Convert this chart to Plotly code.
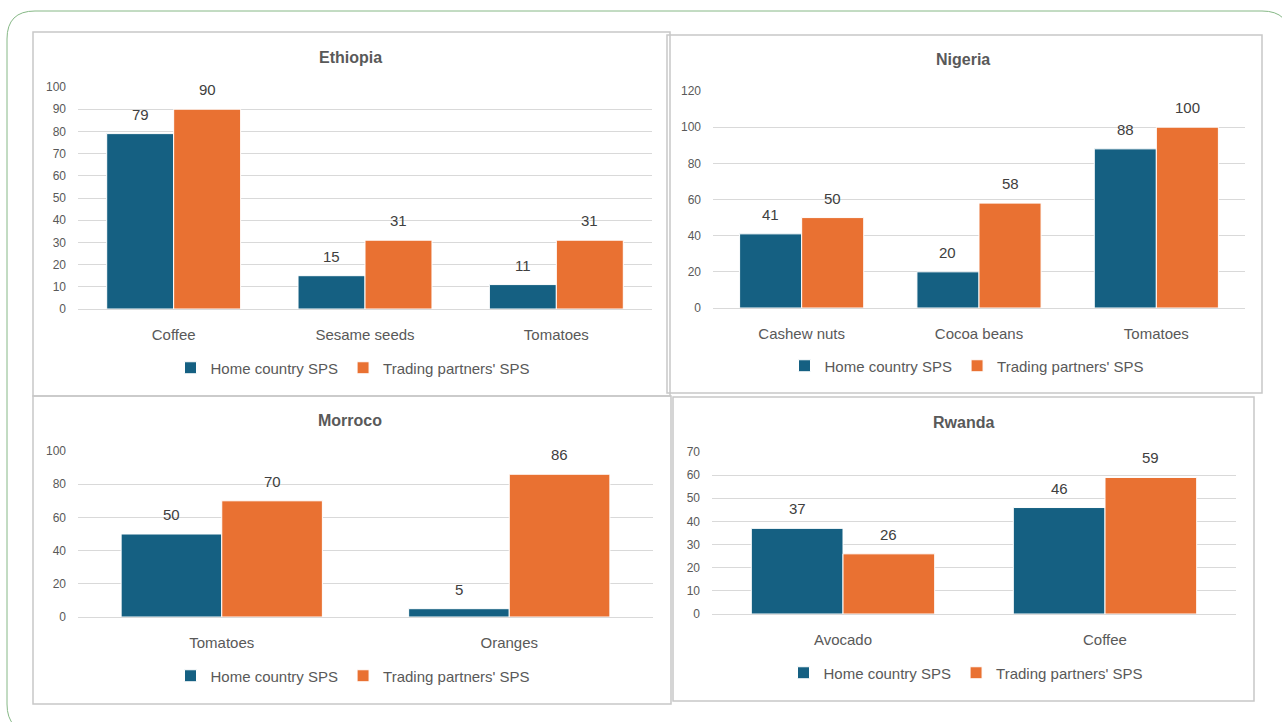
import plotly.graph_objects as go

W, H = 1282, 722

series_names = ["Home country SPS", "Trading partners' SPS"]
colors = ["#156082", "#E97132"]

eth_cats = ["Coffee", "Sesame seeds", "Tomatoes"]
eth_home = [79, 15, 11]
eth_partner = [90, 31, 31]

nga_cats = ["Cashew nuts", "Cocoa beans", "Tomatoes"]
nga_home = [41, 20, 88]
nga_partner = [50, 58, 100]

mar_cats = ["Tomatoes", "Oranges"]
mar_home = [50, 5]
mar_partner = [70, 86]

rwa_cats = ["Avocado", "Coffee"]
rwa_home = [37, 46]
rwa_partner = [26, 59]

titles = ["Ethiopia", "Nigeria", "Morroco", "Rwanda"]
yranges = [(0, 100, 10), (0, 120, 20), (0, 100, 20), (0, 70, 10)]

BARGAP = 0.3


def px(x):
    return x / W


def py(y):
    return 1 - y / H


# panel layout (pixel geometry)
plot_boxes = [(78, 652, 87, 309), (713, 1245, 91, 308), (78, 653, 451, 617), (712, 1236, 452, 614)]
panel_boxes = [(33, 670, 32, 396), (667, 1262, 35, 393), (33, 671, 396, 704), (673, 1254, 397, 701)]
title_pos = [(350, 57), (963, 60), (350, 420), (963, 422)]
legend_pos = [(353, 368), (967, 366), (353, 676), (966, 673)]

data = [
    (eth_cats, eth_home, eth_partner),
    (nga_cats, nga_home, nga_partner),
    (mar_cats, mar_home, mar_partner),
    (rwa_cats, rwa_home, rwa_partner),
]

fig = go.Figure()
FONT = "Liberation Sans, Arial, sans-serif"
GRAY = "#595959"

layout = dict(
    width=W, height=H, margin=dict(l=0, r=0, t=0, b=0, autoexpand=False),
    paper_bgcolor="white", plot_bgcolor="white",
    barmode="group", bargap=BARGAP, bargroupgap=0.0,
    font=dict(family=FONT, color=GRAY),
    showlegend=True,
)

annotations = []
shapes = []

for i, (cats, home, partner) in enumerate(data):
    n = i + 1
    xa = "x" if n == 1 else f"x{n}"
    ya = "y" if n == 1 else f"y{n}"
    lg = "legend" if n == 1 else f"legend{n}"
    x0, x1, y0, y1 = plot_boxes[i]
    bar_px = (x1 - x0) / len(cats) * (1 - BARGAP) / 2
    for k, (vals, name, col) in enumerate([(home, series_names[0], colors[0]),
                                           (partner, series_names[1], colors[1])]):
        fig.add_trace(go.Bar(
            x=cats, y=vals, name=name, xaxis=xa, yaxis=ya, legend=lg,
            marker=dict(color=col, line=dict(color="white", width=1)),
            hoverinfo="x+y+name",
        ))
        shift = (k - 0.5) * bar_px
        for c, v in zip(cats, vals):
            annotations.append(dict(
                x=c, y=v, xref=xa, yref=ya, text=str(v), showarrow=False,
                xanchor="center", yanchor="bottom", xshift=shift, yshift=9,
                font=dict(size=15, color="#404040", family=FONT),
            ))
    lo, hi, dt = yranges[i]
    layout[f"xaxis{'' if n == 1 else n}"] = dict(
        domain=[px(x0), px(x1)], anchor=ya, showgrid=False, automargin=False,
        showline=True, linecolor="#d9d9d9", linewidth=1,
        tickfont=dict(size=15, color=GRAY, family=FONT), ticks="",
        ticklabelstandoff=12, fixedrange=True,
    )
    layout[f"yaxis{'' if n == 1 else n}"] = dict(
        domain=[py(y1), py(y0)], anchor=xa, range=[lo, hi], dtick=dt, automargin=False,
        showgrid=True, gridcolor="#d9d9d9", gridwidth=1, zeroline=False,
        tickfont=dict(size=12, color=GRAY, family=FONT), ticks="",
        ticklabelstandoff=11, showline=False, fixedrange=True,
    )
    lx, ly = legend_pos[i]
    layout[lg] = dict(
        orientation="h", x=px(lx), y=py(ly), xanchor="center", yanchor="middle",
        font=dict(size=15, color=GRAY, family=FONT), bgcolor="rgba(0,0,0,0)",
        itemclick=False, itemdoubleclick=False, tracegroupgap=0,
    )
    tx, ty = title_pos[i]
    annotations.append(dict(
        text=f"<b>{titles[i]}</b>", x=px(tx), y=py(ty), xref="paper", yref="paper",
        showarrow=False, xanchor="center", yanchor="middle",
        font=dict(size=16, color=GRAY, family=FONT),
    ))
    bx0, bx1, by0, by1 = panel_boxes[i]
    shapes.append(dict(
        type="rect", xref="paper", yref="paper",
        x0=px(bx0), x1=px(bx1), y0=py(by1), y1=py(by0),
        line=dict(color="#c8c8c8", width=1.5), fillcolor="rgba(0,0,0,0)", layer="above",
    ))

# outer rounded frame
L, T, R, B, r = 7, 11, 1290, 732, 28
path = (
    f"M {px(L + r)},{py(T)} L {px(R - r)},{py(T)} Q {px(R)},{py(T)} {px(R)},{py(T + r)} "
    f"L {px(R)},{py(B - r)} Q {px(R)},{py(B)} {px(R - r)},{py(B)} "
    f"L {px(L + r)},{py(B)} Q {px(L)},{py(B)} {px(L)},{py(B - r)} "
    f"L {px(L)},{py(T + r)} Q {px(L)},{py(T)} {px(L + r)},{py(T)} Z"
)
shapes.append(dict(type="path", xref="paper", yref="paper", path=path,
                   line=dict(color="#86b886", width=1), layer="above"))

layout["annotations"] = annotations
layout["shapes"] = shapes
fig.update_layout(**layout)

fig.write_html("out.html")
